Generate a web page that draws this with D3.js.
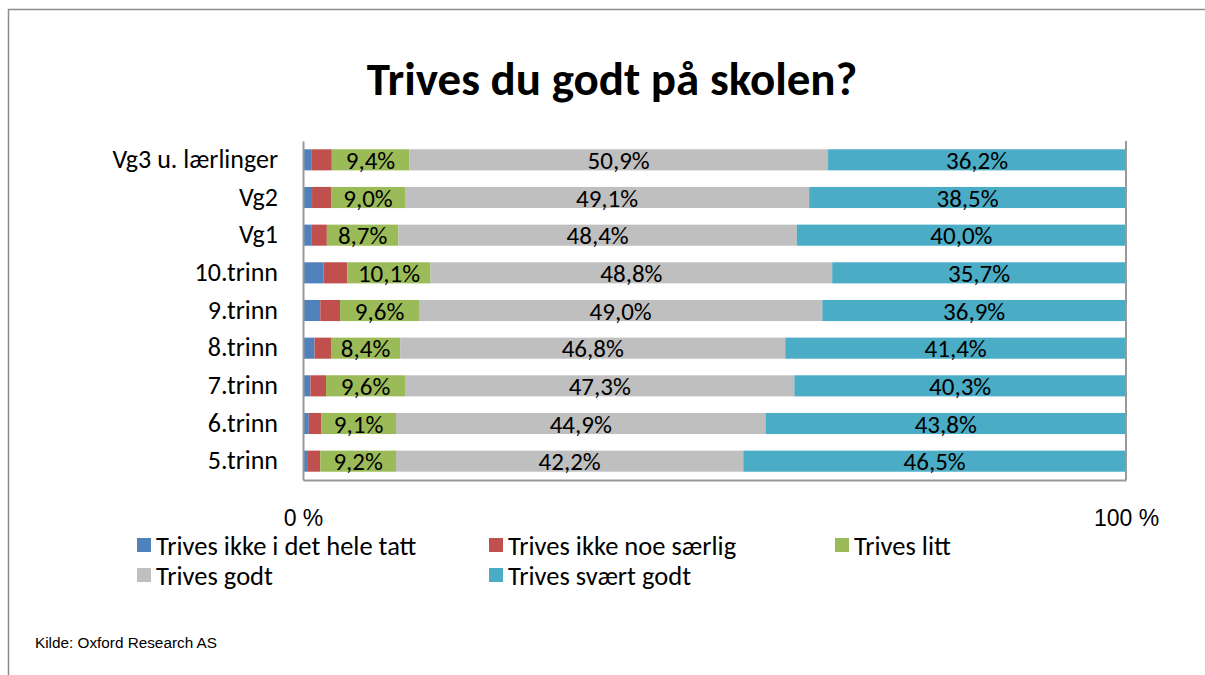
<!DOCTYPE html>
<html>
<head>
<meta charset="utf-8">
<script src="https://cdn.jsdelivr.net/npm/d3@7"></script>
<style>
  body { margin: 0; background: #fff; }
  svg { display: block; font-family: Carlito, Calibri, Lato, sans-serif; }
</style>
</head>
<body>
<svg id="chart" width="1205" height="675"></svg>
<script>
// data (percent per grade)
const categories = ['Vg3 u. lærlinger', 'Vg2', 'Vg1', '10.trinn', '9.trinn', '8.trinn', '7.trinn', '6.trinn', '5.trinn'];
const seriesNames = ['Trives ikke i det hele tatt', 'Trives ikke noe særlig', 'Trives litt', 'Trives godt', 'Trives svært godt'];
const ikkeHeleTatt = [1.0, 1.1, 1.0, 2.5, 2.1, 1.4, 0.9, 0.7, 0.6];
const ikkeNoeSaerlig = [2.5, 2.3, 1.9, 2.9, 2.4, 2.0, 1.9, 1.5, 1.5];
const litt = [9.4, 9.0, 8.7, 10.1, 9.6, 8.4, 9.6, 9.1, 9.2];
const godt = [50.9, 49.1, 48.4, 48.8, 49.0, 46.8, 47.3, 44.9, 42.2];
const svaertGodt = [36.2, 38.5, 40.0, 35.7, 36.9, 41.4, 40.3, 43.8, 46.5];
const tickValues = [0, 100];
const colors = ['#4f81bd', '#c0504d', '#9bbb59', '#bfbfbf', '#4bacc6'];
const labelled = [false, false, true, true, true];

const svg = d3.select('#chart');

// frame
svg.append('path')
  .attr('d', 'M8.5,675 L8.5,9.5 L1205,9.5')
  .attr('fill', 'none')
  .attr('stroke', '#8c8c8c')
  .attr('stroke-width', 1.5);

svg.append('text')
  .attr('x', 612)
  .attr('y', 95)
  .attr('text-anchor', 'middle')
  .style('font-size', '47px')
  .style('font-weight', 'bold')
  .text('Trives du godt på skolen?');

const rows = categories.map((c, i) => ({
  cat: c,
  [seriesNames[0]]: ikkeHeleTatt[i],
  [seriesNames[1]]: ikkeNoeSaerlig[i],
  [seriesNames[2]]: litt[i],
  [seriesNames[3]]: godt[i],
  [seriesNames[4]]: svaertGodt[i],
}));

const x = d3.scaleLinear().domain([0, 100]).range([303, 1126]);
const y = d3.scaleBand().domain(categories).range([141, 480]).paddingInner(0.44).paddingOuter(0.22);

const stacked = d3.stack().keys(seriesNames)(rows);

const layer = svg.selectAll('.layer')
  .data(stacked)
  .enter()
  .append('g')
  .attr('class', 'layer')
  .attr('fill', (d, i) => colors[i]);

layer.selectAll('rect')
  .data(d => d)
  .enter()
  .append('rect')
  .attr('x', d => x(d[0]))
  .attr('y', d => y(d.data.cat))
  .attr('width', d => x(Math.min(d[1], 100)) - x(d[0]))
  .attr('height', y.bandwidth());

const fmt = v => v.toFixed(1).replace('.', ',') + '%';

layer.filter((d, i) => labelled[i])
  .selectAll('text')
  .data(d => d.map(p => ({ p, key: d.key })))
  .enter()
  .append('text')
  .attr('x', d => (x(d.p[0]) + x(Math.min(d.p[1], 100))) / 2)
  .attr('y', d => y(d.p.data.cat) + y.bandwidth() / 2)
  .attr('dy', '0.36em')
  .attr('text-anchor', 'middle')
  .attr('fill', '#000')
  .style('font-size', '25px')
  .text(d => fmt(d.p.data[d.key]));

// axes
const yAxis = svg.append('g')
  .attr('transform', 'translate(303,0)')
  .call(d3.axisLeft(y).tickSize(0).tickPadding(25));
yAxis.selectAll('text').style('font-size', '26px').attr('fill', '#000').style('font-family', 'Carlito, Calibri, Lato, sans-serif');

const xAxis = svg.append('g')
  .attr('transform', 'translate(0,480)')
  .call(d3.axisBottom(x).tickValues(tickValues).tickSize(0).tickPadding(30).tickFormat(d => d + ' %'));
xAxis.selectAll('text').style('font-size', '23px').attr('fill', '#000').style('font-family', '"Liberation Sans", Arial, sans-serif');

svg.selectAll('.domain').attr('stroke', '#999').attr('stroke-width', 2);

svg.append('line')
  .attr('x1', x(100)).attr('x2', x(100))
  .attr('y1', 141).attr('y2', 480)
  .attr('stroke', '#999')
  .attr('stroke-width', 2);

// legend
const legendPos = [[137, 545], [489, 545], [835, 545], [137, 575], [489, 575]];
const legend = svg.selectAll('.legend')
  .data(seriesNames)
  .enter()
  .append('g')
  .attr('class', 'legend')
  .attr('transform', (d, i) => `translate(${legendPos[i][0]},${legendPos[i][1]})`);

legend.append('rect')
  .attr('x', 0).attr('y', -7)
  .attr('width', 14).attr('height', 14)
  .attr('fill', (d, i) => colors[i]);

legend.append('text')
  .attr('x', 19)
  .attr('dy', '0.36em')
  .style('font-size', '26.5px')
  .text(d => d);

svg.append('text')
  .attr('x', 35)
  .attr('y', 648)
  .style('font-family', '"Liberation Sans", Arial, sans-serif')
  .style('font-size', '15.3px')
  .text('Kilde: Oxford Research AS');
</script>
</body>
</html>
